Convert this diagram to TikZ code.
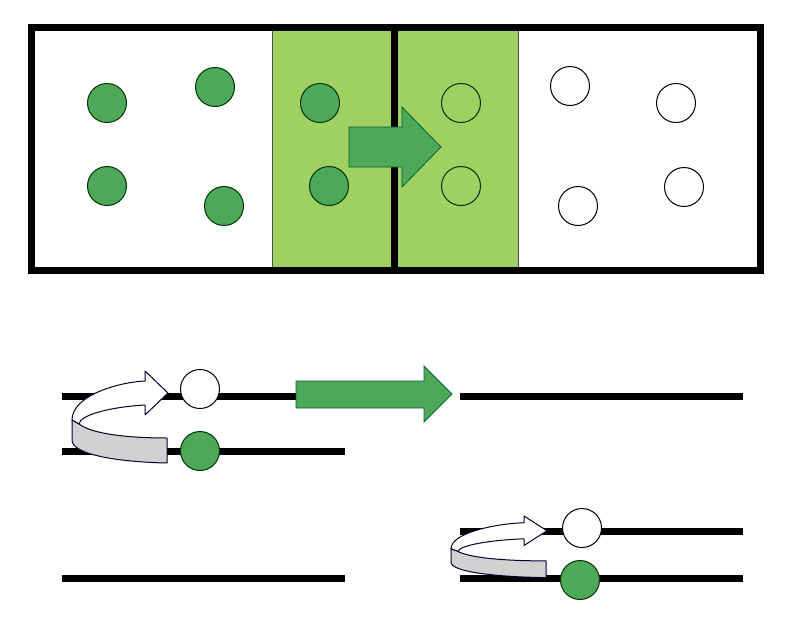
\documentclass[tikz,border=0pt]{standalone}
\begin{document}
\begin{tikzpicture}[x=1pt,y=1pt,
  gc/.style={circle,draw=black!80!green,line width=1pt,fill=dotgreen,minimum size=39pt,inner sep=0pt},
  lc/.style={gc,fill=lightgreen},
  wc/.style={gc,draw=black,fill=white},
  bar/.style={line width=7pt},
  garrow/.style={fill=dotgreen,draw=black!70!blue!60!green,line width=0.8pt},
  rot/.style={draw=black!80!blue,line width=1pt,line join=round}]
\definecolor{dotgreen}{HTML}{4EA85A}
\definecolor{lightgreen}{HTML}{A0CF62}
\useasboundingbox (0,0) rectangle (790,-640);
% top panel
\fill[lightgreen] (272,-30) rectangle (518,-267);
\draw[line width=0.6pt,black!70] (272,-30) -- (272,-267) (518,-30) -- (518,-267);
\draw[line width=7pt] (31,-27) rectangle (760,-270);
\draw[line width=7pt] (394,-27) -- (394,-270);
\foreach \p/\q [count=\i] in {107/103,215/87,107/186,224/206,320/103,329/186}
  \node[gc] (g\i) at (\p,-\q) {};
\node[lc] (l1) at (461,-103) {};
\node[lc] (l2) at (461,-186) {};
\foreach \p/\q [count=\i] in {570/86,676/103,578/206,684/187}
  \node[wc] (w\i) at (\p,-\q) {};
\draw[garrow] (349,-127) -- (402,-127) -- (402,-107) -- (441,-147) -- (402,-187) -- (402,-167) -- (349,-167) -- cycle;
% bottom
\draw[bar] (62,-396) -- (296,-396);
\draw[bar] (62,-451) -- (345,-451);
\draw[bar] (460,-396) -- (743,-396);
\draw[bar] (460,-531) -- (743,-531);
\draw[bar] (460,-578) -- (743,-578);
\draw[bar] (62,-578) -- (345,-578);
\draw[garrow] (296,-381) -- (424,-381) -- (424,-366) -- (452,-394) -- (424,-422) -- (424,-408) -- (296,-408) -- cycle;
\foreach \sx/\sy/\ys in {72/371/1,451/516/0.67}{
\begin{scope}[shift={(\sx,-\sy)},yscale=\ys]
\draw[rot,fill=white] (73,-10) -- (73,0) -- (96,-22) -- (73,-44) -- (73,-34) .. controls (38,-36) and (8,-44) .. (7,-53) -- (0,-49) .. controls (0,-24) and (48,-11) .. (73,-10) -- cycle;
\draw[rot,fill=black!18] (7,-53) .. controls (23,-65) and (68,-67) .. (95,-67) -- (95,-92) .. controls (48,-91) and (0,-84) .. (0,-69) -- (0,-49) -- cycle;
\end{scope}}
\node[wc] (b1) at (200,-389) {};
\node[gc] (b2) at (200,-451) {};
\node[wc] (b3) at (582,-528) {};
\node[gc] (b4) at (580,-580) {};
\end{tikzpicture}
\end{document}
